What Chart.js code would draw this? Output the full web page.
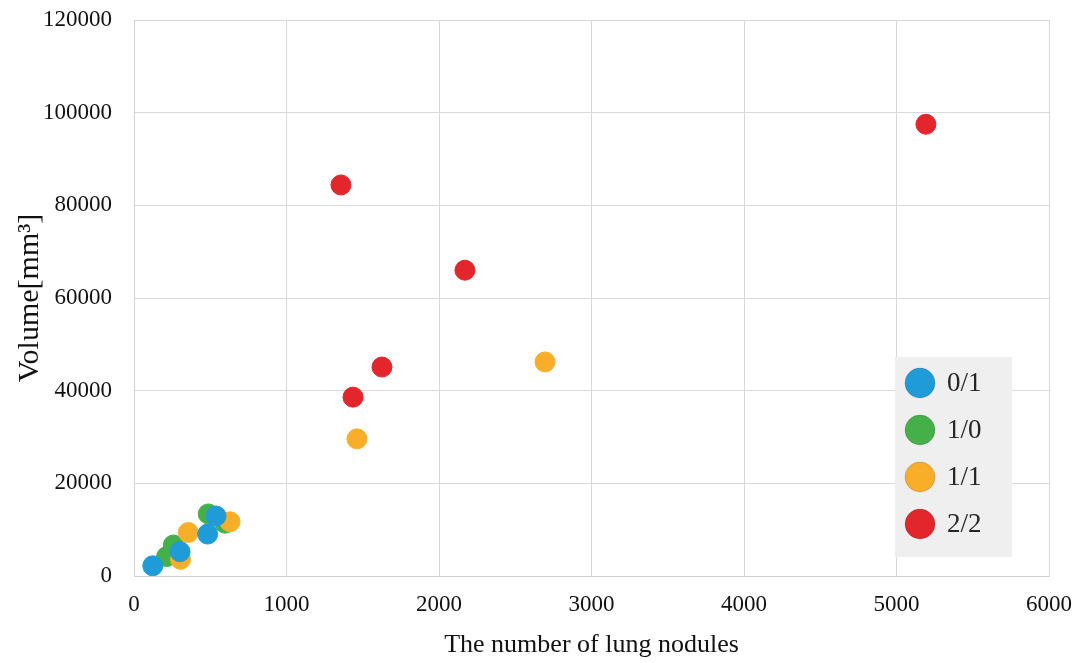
<!DOCTYPE html>
<html>
<head>
<meta charset="utf-8">
<script src="https://cdn.jsdelivr.net/npm/chart.js@4.4.1/dist/chart.umd.min.js"></script>
<style>
  html, body { margin: 0; padding: 0; background: #ffffff; }
  #wrap { width: 1082px; height: 663px; position: relative; }
</style>
</head>
<body>
<div id="wrap"><canvas id="chart"></canvas></div>
<script>
// Grade groups and their (nodule count, volume) measurements
const groupLabels = ['0/1', '1/0', '1/1', '2/2'];
const groupColors = ['#1f9bd7', '#45b04a', '#f9ae2a', '#e2262b'];

const g01Count  = [123, 302, 483, 538];
const g01Volume = [2200, 5250, 9050, 12950];

const g10Count  = [214, 258, 487, 597];
const g10Volume = [4200, 6700, 13400, 11400];

const g11Count  = [305, 356, 630, 1462, 2695];
const g11Volume = [3600, 9400, 11700, 29600, 46200];

const g22Count  = [1357, 1436, 1626, 2170, 5193];
const g22Volume = [84400, 38600, 45100, 66000, 97500];

const xTicks = [0, 1000, 2000, 3000, 4000, 5000, 6000];
const yTicks = [0, 20000, 40000, 60000, 80000, 100000, 120000];

function pairs(xs, ys) {
  return xs.map((x, i) => ({ x: x, y: ys[i] }));
}

const seriesCounts = [g01Count, g10Count, g11Count, g22Count];
const seriesVolumes = [g01Volume, g10Volume, g11Volume, g22Volume];
// lower order is painted on top
const drawOrder = [0, 2, 1, 3];

const datasets = groupLabels.map((label, i) => ({
  label: label,
  data: pairs(seriesCounts[i], seriesVolumes[i]),
  backgroundColor: groupColors[i],
  borderColor: groupColors[i],
  borderWidth: 1,
  pointRadius: 10,
  pointHoverRadius: 10,
  order: drawOrder[i]
}));

// Boxed legend drawn inside the lower right of the plot area
const insideLegend = {
  id: 'insideLegend',
  afterDraw(chart) {
    const ctx = chart.ctx;
    const area = chart.chartArea;
    const left = area.right - 154;
    const top = area.bottom - 219;
    ctx.save();
    ctx.fillStyle = '#efefef';
    ctx.fillRect(left, top, 117, 200);
    chart.data.datasets.forEach((ds, i) => {
      const cy = top + 26 + i * 47;
      ctx.beginPath();
      ctx.arc(left + 25, cy, 15, 0, Math.PI * 2);
      ctx.fillStyle = ds.backgroundColor;
      ctx.fill();
      ctx.lineWidth = 1;
      ctx.strokeStyle = 'rgba(0,0,0,0.15)';
      ctx.stroke();
      ctx.fillStyle = '#262626';
      ctx.font = '27px "Liberation Serif", serif';
      ctx.textBaseline = 'middle';
      ctx.textAlign = 'left';
      ctx.fillText(ds.label, left + 52, cy + 1);
    });
    ctx.restore();
  }
};

const tickFont = { family: '"Liberation Serif", serif', size: 23 };
const plainNumber = v => String(v);

new Chart(document.getElementById('chart'), {
  type: 'scatter',
  data: { datasets: datasets },
  options: {
    responsive: true,
    maintainAspectRatio: false,
    animation: false,
    layout: { padding: { top: 20, right: 33, left: 0, bottom: 0 } },
    plugins: {
      legend: { display: false },
      tooltip: { enabled: false }
    },
    scales: {
      x: {
        type: 'linear',
        min: 0,
        max: 6000,
        afterBuildTicks(scale) { scale.ticks = xTicks.map(v => ({ value: v })); },
        afterFit(scale) {
          scale.height = 87;
          scale.paddingLeft = 0;
          scale.paddingRight = 0;
        },
        grid: { color: '#d9d9d9', lineWidth: 1, drawTicks: false },
        border: { color: '#d0d0d0' },
        ticks: { color: '#111', font: tickFont, padding: 15, maxRotation: 0, callback: plainNumber },
        title: {
          display: true,
          text: 'The number of lung nodules',
          color: '#111',
          font: { family: '"Liberation Serif", serif', size: 26 },
          padding: { top: 0, bottom: 2 }
        }
      },
      y: {
        type: 'linear',
        min: 0,
        max: 120000,
        afterBuildTicks(scale) { scale.ticks = yTicks.map(v => ({ value: v })); },
        afterFit(scale) {
          scale.width = 134;
          scale.paddingTop = 0;
          scale.paddingBottom = 0;
        },
        grid: { color: '#d9d9d9', lineWidth: 1, drawTicks: false },
        border: { color: '#d0d0d0' },
        ticks: { color: '#111', font: tickFont, padding: 22, callback: plainNumber },
        title: {
          display: true,
          text: 'Volume[mm³]',
          color: '#111',
          font: { family: '"Liberation Serif", serif', size: 30 },
          padding: { top: 12, bottom: 0 }
        }
      }
    }
  },
  plugins: [insideLegend]
});
</script>
</body>
</html>
